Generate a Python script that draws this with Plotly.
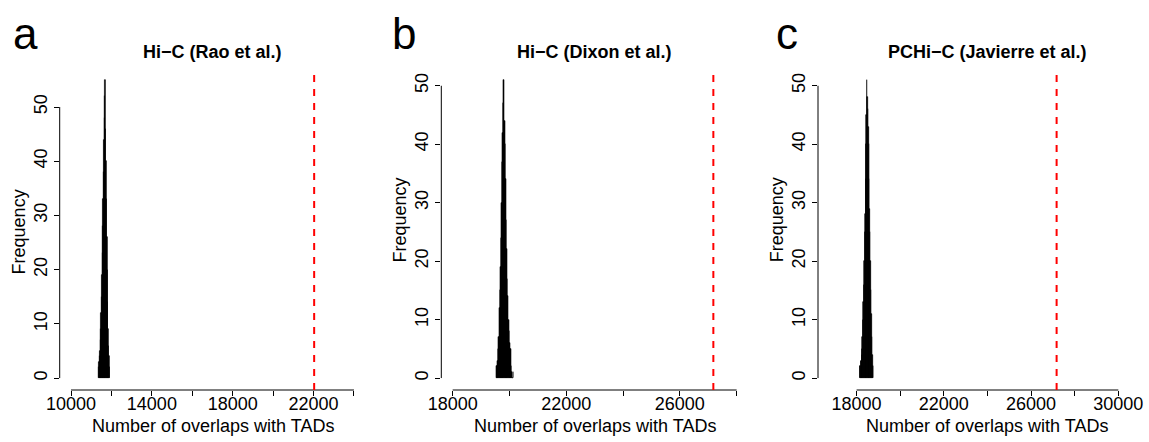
import plotly.graph_objects as go

W, H = 1149, 442
FONT = "Liberation Sans, Arial, Helvetica, sans-serif"

# ---------------- data ----------------
BIN_WIDTH = 20

titles = ["Hi\u2212C (Rao et al.)", "Hi\u2212C (Dixon et al.)", "PCHi\u2212C (Javierre et al.)"]
letters = ["a", "b", "c"]

a_bin_start = 11370
a_counts = [2, 3, 4, 5, 7, 9, 12, 15, 19, 23, 28, 33, 38, 44, 48, 52, 55,
            46, 40, 33, 26, 20, 14, 9, 6, 4, 2]
a_observed = 22030

b_bin_start = 19540
b_counts = [2, 2, 3, 5, 7, 12, 15, 19, 24, 30, 37, 42, 47, 51, 44, 40, 34,
            27, 22, 17, 14, 10, 8, 6, 5, 5, 2, 1, 0, 1]
b_observed = 27180

c_bin_start = 18150
c_counts = [2, 2, 3, 3, 4, 5, 7, 10, 13, 16, 20, 25, 28, 34, 40, 45, 51,
            48, 46, 43, 40, 34, 29, 25, 20, 15, 11, 7, 4, 2, 2]
c_observed = 27170

a_xticks = [10000, 12000, 14000, 16000, 18000, 20000, 22000, 24000]
a_xticklabels = ["10000", "", "14000", "", "18000", "", "22000", ""]
b_xticks = [18000, 20000, 22000, 24000, 26000, 28000]
b_xticklabels = ["18000", "", "22000", "", "26000", ""]
c_xticks = [18000, 20000, 22000, 24000, 26000, 28000, 30000]
c_xticklabels = ["18000", "", "22000", "", "26000", "", "30000"]
yticks = [0, 10, 20, 30, 40, 50]
yticklabels = ["0", "10", "20", "30", "40", "50"]

# ---------------- layout geometry (pixels) ----------------
panels = [
    dict(start=a_bin_start, counts=a_counts, obs=a_observed, xt=a_xticks, xl=a_xticklabels,
         px=(59.7, 365.3), xr=(9440, 24560), yr=(-2.2, 57.2), letter_x=25),
    dict(start=b_bin_start, counts=b_counts, obs=b_observed, xt=b_xticks, xl=b_xticklabels,
         px=(441.3, 748.0), xr=(17600, 28400), yr=(-2.04, 53.04), letter_x=404),
    dict(start=c_bin_start, counts=c_counts, obs=c_observed, xt=c_xticks, xl=c_xticklabels,
         px=(818.0, 1124.0), xr=(16230, 30260), yr=(-2.04, 53.04), letter_x=787),
]
PLOT_TOP, PLOT_BOTTOM = 68.0, 390.0

fig = go.Figure()
shapes = []
annotations = []
layout = {}

for i, p in enumerate(panels):
    n = "" if i == 0 else str(i + 1)
    xa, ya = "x" + n, "y" + n
    centers = [p["start"] + BIN_WIDTH * k + BIN_WIDTH / 2 for k in range(len(p["counts"]))]
    fig.add_trace(go.Bar(
        x=centers, y=p["counts"], width=BIN_WIDTH,
        marker=dict(color="black", line=dict(color="black", width=0.6)),
        xaxis=xa, yaxis=ya, showlegend=False, hoverinfo="x+y",
    ))
    layout["xaxis" + n] = dict(
        domain=[p["px"][0] / W, p["px"][1] / W], range=list(p["xr"]), anchor=ya,
        tickmode="array", tickvals=p["xt"], ticktext=p["xl"],
        ticks="outside", ticklen=5, tickwidth=1, tickcolor="black",
        showgrid=False, zeroline=False, showline=False, automargin=False,
        ticklabelstandoff=-8,
        tickfont=dict(family=FONT, size=18, color="black"),
    )
    layout["yaxis" + n] = dict(
        domain=[1 - PLOT_BOTTOM / H, 1 - PLOT_TOP / H], range=list(p["yr"]), anchor=xa,
        tickmode="array", tickvals=yticks, ticktext=yticklabels, tickangle=-90,
        ticks="outside", ticklen=5, tickwidth=1, tickcolor="black",
        showgrid=False, zeroline=False, showline=False, automargin=False,
        tickfont=dict(family=FONT, size=18, color="black"),
    )
    # detached R-style axis lines
    shapes.append(dict(type="line", xref=xa, yref=ya + " domain",
                       x0=p["xt"][0], x1=p["xt"][-1], y0=0, y1=0,
                       line=dict(color="black", width=1)))
    shapes.append(dict(type="line", xref=xa + " domain", yref=ya,
                       x0=0, x1=0, y0=yticks[0], y1=yticks[-1],
                       line=dict(color="black", width=1)))
    # observed value
    shapes.append(dict(type="line", xref=xa, yref=ya + " domain",
                       x0=p["obs"], x1=p["obs"], y0=0, y1=1,
                       line=dict(color="#ff0000", width=2, dash="7px,7px")))
    # titles & labels
    xc = (p["xt"][0] + p["xt"][-1]) / 2
    annotations.append(dict(text="<b>" + titles[i] + "</b>", xref=xa, yref="paper",
                            x=xc, y=1 - 52 / H, showarrow=False,
                            font=dict(family=FONT, size=18, color="black"),
                            xanchor="center", yanchor="middle"))
    annotations.append(dict(text="Number of overlaps with TADs", xref=xa, yref="paper",
                            x=xc, y=1 - 426 / H, showarrow=False,
                            font=dict(family=FONT, size=18, color="black"),
                            xanchor="center", yanchor="middle"))
    annotations.append(dict(text="Frequency", xref="paper", yref=ya,
                            x=(p["px"][0] - 41) / W, y=27, textangle=-90, showarrow=False,
                            font=dict(family=FONT, size=18, color="black"),
                            xanchor="center", yanchor="middle"))
    annotations.append(dict(text=letters[i], xref="paper", yref="paper",
                            x=p["letter_x"] / W, y=1 - 34 / H, showarrow=False,
                            font=dict(family=FONT, size=44, color="black"),
                            xanchor="center", yanchor="middle"))

fig.update_layout(
    template="none",
    width=W, height=H, autosize=False,
    margin=dict(l=0, r=0, t=0, b=0, pad=0),
    paper_bgcolor="white", plot_bgcolor="white",
    shapes=shapes, annotations=annotations, bargap=0,
    **layout,
)

fig.write_html("out.html", config={"displayModeBar": False})

# remove the browser's default body margin so the figure sits at the page origin
with open("out.html", "r", encoding="utf-8") as fh:
    html = fh.read()
html = html.replace("<body>", '<body style="margin:0;padding:0;overflow:hidden">', 1)
with open("out.html", "w", encoding="utf-8") as fh:
    fh.write(html)
